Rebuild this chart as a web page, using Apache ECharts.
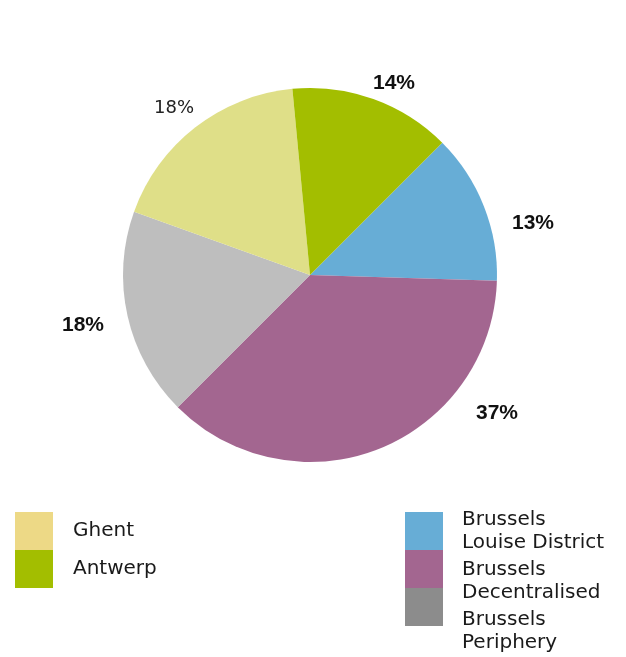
<!DOCTYPE html>
<html>
<head>
<meta charset="utf-8">
<script src="https://cdn.jsdelivr.net/npm/echarts@6/dist/echarts.min.js"></script>
<style>
  html, body { margin: 0; padding: 0; background: #fff; }
  #chart { width: 626px; height: 657px; }
</style>
</head>
<body>
<div id="chart"></div>
<script>
// Office stock share by market area (percent)
const categories = ['Brussels Louise District', 'Brussels Decentralised', 'Brussels Periphery', 'Ghent', 'Antwerp'];
const shares = [13, 37, 18, 18, 14];
const sliceColors = ['#67ADD6', '#A36690', '#BEBEBE', '#DFDF88', '#A3BE00'];

// Legend columns (order and swatch colours of the key)
const legendLeft = ['Ghent', 'Antwerp'];
const legendLeftColors = ['#EDD986', '#A3BE00'];
const legendRight = ['Brussels\nLouise District', 'Brussels\nDecentralised', 'Brussels\nPeriphery'];
const legendRightColors = ['#67ADD6', '#A36690', '#8C8C8C'];

// Label anchor points around the pie, one per slice
const labelAnchors = [[533, 223], [497, 413], [83, 325], [174, 108], [394, 83]];

const chart = echarts.init(document.getElementById('chart'), null, { renderer: 'canvas' });

const pieData = categories.map((name, i) => ({
  name: name,
  value: shares[i],
  itemStyle: { color: sliceColors[i] },
  label: name === 'Ghent'
    ? { fontWeight: 'normal', fontFamily: 'DejaVu Sans', fontSize: 18, color: '#222' }
    : {}
}));

const graphics = [];
legendLeft.forEach((name, i) => {
  graphics.push({
    type: 'rect', left: 15, top: 512 + 38 * i,
    shape: { width: 38, height: 38 },
    style: { fill: legendLeftColors[i] }
  });
  graphics.push({
    type: 'text', x: 73, y: 531 + 38 * i,
    style: {
      text: name, fill: '#1a1a1a', font: '20px "DejaVu Sans"',
      verticalAlign: 'middle', align: 'left'
    }
  });
});
legendRight.forEach((name, i) => {
  graphics.push({
    type: 'rect', left: 405, top: 512 + 38 * i,
    shape: { width: 38, height: 38 },
    style: { fill: legendRightColors[i] }
  });
  graphics.push({
    type: 'text', x: 462, y: 508 + 50 * i,
    style: {
      text: name, fill: '#1a1a1a', font: '20px "DejaVu Sans"',
      lineHeight: 23, verticalAlign: 'top', align: 'left'
    }
  });
});

chart.setOption({
  animation: false,
  backgroundColor: '#ffffff',
  series: [{
    type: 'pie',
    center: [310, 275],
    radius: [0, 187],
    startAngle: 45,
    clockwise: true,
    avoidLabelOverlap: false,
    data: pieData,
    label: {
      show: true,
      position: 'outside',
      formatter: '{c}%',
      color: '#111',
      fontFamily: 'Liberation Sans',
      fontWeight: 'bold',
      fontSize: 21
    },
    labelLine: { show: false },
    labelLayout: function (params) {
      const p = labelAnchors[params.dataIndex];
      return { x: p[0], y: p[1], align: 'center', verticalAlign: 'middle' };
    },
    emphasis: { disabled: true }
  }],
  graphic: graphics
});
</script>
</body>
</html>
